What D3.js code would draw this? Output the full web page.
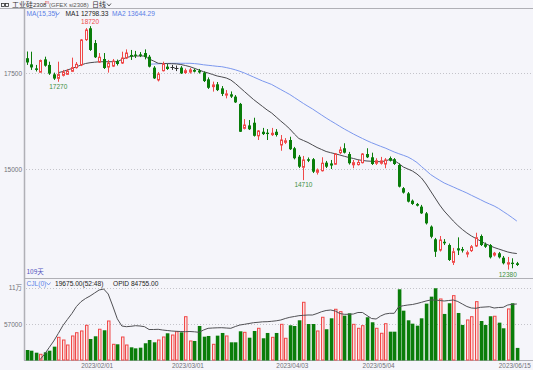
<!DOCTYPE html>
<html><head><meta charset="utf-8">
<script src="https://cdn.jsdelivr.net/npm/d3@7"></script>
<style>html,body{margin:0;padding:0;background:#f5f5fa;}svg{display:block}</style>
</head><body><svg id="c" width="533" height="370"></svg>
<script>
const dates=["01/03","01/04","01/05","01/06","01/09","01/10","01/11","01/12","01/13","01/16","01/17","01/18","01/19","01/20","01/30","01/31",
"02/01","02/02","02/03","02/06","02/07","02/08","02/09","02/10","02/13","02/14","02/15","02/16","02/17","02/20","02/21","02/22","02/23","02/24","02/27","02/28",
"03/01","03/02","03/03","03/06","03/07","03/08","03/09","03/10","03/13","03/14","03/15","03/16","03/17","03/20","03/21","03/22","03/23","03/24","03/27","03/28","03/29","03/30","03/31",
"04/03","04/04","04/06","04/07","04/10","04/11","04/12","04/13","04/14","04/17","04/18","04/19","04/20","04/21","04/24","04/25","04/26","04/27","04/28",
"05/04","05/05","05/08","05/09","05/10","05/11","05/12","05/15","05/16","05/17","05/18","05/19","05/22","05/23","05/24","05/25","05/26","05/29","05/30","05/31",
"06/01","06/02","06/05","06/06","06/07","06/08","06/09","06/12","06/13","06/14","06/15"];
const open=[17885,17725,17620,17520,17855,17710,17465,17360,17440,17465,17545,17640,17710,18370,18665,18280,17785,17865,17655,17680,17810,17760,17890,17970,17980,17985,18020,17925,17640,17320,17560,17665,17645,17635,17640,17510,17525,17580,17560,17510,17335,17145,17205,17100,16925,16945,16885,16695,16060,16135,16205,15865,15970,15945,15895,15970,15625,15695,15755,15540,15320,15045,15255,15255,14915,14955,15165,15145,15125,15425,15540,15390,15110,15115,15165,15390,15305,15150,15150,15130,15285,15255,15105,14500,14365,14175,14090,14020,13845,13500,13170,12890,13105,13020,12570,12935,12915,12785,12875,12995,13255,13040,13020,12760,12805,12690,12525,12560,12545];
const high=[18060,18055,17710,17850,17925,17795,17510,17795,17580,17605,17900,17785,18385,18670,18720,18360,18020,18020,17840,17865,17850,18055,18115,18100,18075,18045,18115,17970,17680,17525,17795,17735,17710,17695,17680,17615,17630,17615,17605,17540,17385,17275,17265,17160,17055,17020,16925,16720,16300,16275,16335,16015,16070,16040,16070,16040,15885,15805,15840,15575,15365,15340,15300,15285,15015,15305,15210,15235,15415,15580,15670,15445,15235,15235,15415,15540,15425,15280,15315,15285,15325,15285,15145,14530,14400,14205,14115,14065,13880,13530,13205,13255,13175,13060,12945,13220,12970,12875,13020,13340,13295,13085,13045,12840,12840,12735,12710,12675,12580];
const low=[17710,17580,17540,17515,17665,17450,17320,17270,17410,17450,17525,17615,17680,18335,18075,17890,17760,17605,17510,17655,17695,17735,17865,17840,17890,17915,17855,17645,17345,17280,17540,17580,17580,17550,17475,17475,17485,17515,17485,17265,17085,17015,17030,16900,16840,16850,16720,15965,16030,16015,15845,15755,15885,15755,15860,15845,15475,15650,15495,15250,15025,14710,15180,14895,14855,14935,15025,15000,15105,15390,15405,15115,15020,15090,15145,15285,15105,15105,15115,15020,15195,15105,14520,14360,14130,14065,14025,13830,13555,13195,12710,12850,13020,12605,12500,12760,12825,12700,12840,12970,12995,12945,12670,12720,12670,12515,12380,12415,12475];
const close=[17775,17645,17580,17825,17690,17485,17355,17460,17520,17550,17640,17725,18360,18620,18100,17910,17910,17630,17760,17810,17735,17890,18020,17930,17945,17945,17915,17665,17360,17475,17735,17605,17645,17635,17490,17560,17580,17535,17515,17290,17115,17190,17055,16955,16955,16885,16735,15970,16145,16035,15865,15990,15910,15910,15930,15885,15755,15735,15515,15280,15060,15235,15215,14930,14975,15150,15060,15090,15390,15495,15425,15150,15165,15170,15390,15305,15130,15215,15210,15235,15215,15130,14540,14385,14150,14090,14045,13845,13585,13235,12845,13150,13065,12630,12845,12880,12875,12820,12975,13210,13020,12975,12700,12805,12700,12545,12560,12525,12500];
const volume=[16400,15300,12200,9700,12800,15300,21600,36200,32000,24200,38300,43400,46100,55000,33600,37800,48800,47200,61700,25300,25300,36700,24200,20600,19000,20000,26900,32000,28400,32000,36700,42500,39800,45000,44000,68400,30500,30500,53900,37200,38300,25300,38800,43000,38300,28400,28400,45600,44000,35600,46100,50300,34700,43000,36200,43000,56500,34700,55000,53900,62800,90900,57000,57000,46100,67500,48800,65900,80000,76300,70000,73700,56500,50300,54400,67500,59700,50300,42500,57500,45000,45000,111200,77800,62800,57500,54400,65900,88800,99700,112800,96100,72700,89400,101300,74200,55500,63300,68400,91900,61700,55500,69100,69100,59100,50300,80500,89400,19675];
const openInterest=[null,null,null,1500,9750,19500,29250,40500,52200,61500,70500,81000,88200,93000,96750,101250,105750,107250,99750,81750,62550,51750,50700,51300,52200,51750,50700,46500,46500,46800,45750,45000,44250,43800,43500,43200,43500,43050,42300,45750,48300,48750,49050,49200,48750,48300,51000,53250,54300,55500,56700,57300,58050,58200,58800,59550,60750,63000,64800,66000,67200,67800,68250,68250,70500,73200,75000,75750,74250,70500,69300,69300,69750,72000,72000,67500,63000,62250,66750,69750,70800,70800,80700,82200,83250,84000,85500,87300,89250,90750,90750,90000,89250,90000,90750,88500,84750,81000,78750,78300,79800,80250,80700,78750,79500,79800,83250,84300,84755];
const ma1=[null,null,null,null,null,null,null,17508,17539,17578,17617,17661,17708,17747,17768,17781,17792,17794,17794,17794,17794,17852,17904,17930,17943,17943,17943,17865,17812,17753,17747,17745,17742,17737,17721,17695,17664,17622,17578,17534,17500,17461,17422,17398,17370,17318,17227,17122,17018,16914,16810,16719,16628,16537,16458,16354,16250,16151,16042,15911,15794,15742,15690,15625,15560,15508,15456,15425,15396,15365,15331,15300,15274,15242,15222,15208,15201,15195,15190,15208,15248,15222,15143,15052,15000,14948,14870,14766,14610,14427,14245,14063,13906,13776,13646,13529,13425,13334,13255,13190,13125,13060,13008,12956,12917,12878,12839,12813,12798.33];
const ma2=[null,null,null,null,null,null,null,null,null,null,null,null,null,null,null,null,null,null,null,null,null,null,null,null,null,null,null,17727,17734,17740,17745,17750,17753,17753,17753,17753,17753,17745,17732,17714,17701,17688,17674,17664,17641,17615,17583,17544,17500,17448,17396,17344,17292,17247,17201,17135,17070,17005,16940,16862,16784,16706,16633,16563,16484,16406,16328,16255,16185,16112,16042,15977,15912,15852,15794,15737,15685,15638,15591,15547,15495,15443,15399,15357,15313,15248,15169,15065,14961,14857,14779,14706,14636,14584,14532,14479,14427,14375,14315,14258,14201,14141,14089,14037,13972,13893,13815,13732,13644.29];
const priceTicks=[15000,17500];
const volTicks=[57000,114000];
const dateTicks=["02/01","03/01","04/03","05/04","06/15"];
const extremeMarks=[{i:14,kind:"high"},{i:7,kind:"low"},{i:61,kind:"low"},{i:106,kind:"low"}];

const W=533,H=370,BG="#f5f5fa",RED="#f04848",GREEN="#0a7d0a",GRID="#c4c4ca",AX="#b0b0b6";
const NUMF="'Liberation Sans',Arial,sans-serif", CJK="'Noto Sans CJK SC','Noto Sans',sans-serif";
const svg=d3.select("#c");
svg.append("rect").attr("width",W).attr("height",H).attr("fill",BG);

const x=d3.scaleBand().domain(dates).range([24.23,519.09]);
const cx=i=>Math.round(x(dates[i])+x.bandwidth()/2);
const y=d3.scaleLinear().domain([15000,17500]).range([169,73]);
const yv=d3.scaleLinear().domain([0,114000]).range([360.5,287.5]);
const yo=d3.scaleLinear().domain([0,109500]).range([360.5,287.5]);

// grid
const grid=svg.append("g").attr("stroke",GRID).attr("stroke-dasharray","1,2").attr("stroke-width",1);
priceTicks.forEach(t=>grid.append("line").attr("x1",26).attr("x2",W).attr("y1",Math.round(y(t))+0.5).attr("y2",Math.round(y(t))+0.5));
volTicks.forEach(t=>grid.append("line").attr("x1",26).attr("x2",W).attr("y1",Math.round(yv(t))+0.5).attr("y2",Math.round(yv(t))+0.5));

// frame lines
const fr=svg.append("g").attr("stroke",AX).attr("stroke-width",1);
fr.append("line").attr("x1",0).attr("x2",W).attr("y1",8.5).attr("y2",8.5);
fr.append("line").attr("x1",24).attr("x2",W).attr("y1",278.5).attr("y2",278.5);
fr.append("line").attr("x1",24).attr("x2",W).attr("y1",360.5).attr("y2",360.5);
fr.append("line").attr("x1",24.5).attr("x2",24.5).attr("y1",8.5).attr("y2",360.5).attr("stroke-width",1.5);

// axes labels
const axP=svg.append("g").attr("transform","translate(24,0)")
  .call(d3.axisLeft(y).tickValues(priceTicks).tickSize(0).tickPadding(2).tickFormat(d=>String(d)));
const axV=svg.append("g").attr("transform","translate(24,0)")
  .call(d3.axisLeft(yv).tickValues(volTicks).tickSize(0).tickPadding(2).tickFormat(d=>d>=100000?Math.floor(d/10000)+"万":String(d)));
const axD=svg.append("g").attr("transform","translate(-2,360)")
  .call(d3.axisBottom(x).tickValues(dateTicks).tickSize(0).tickPadding(3).tickFormat(d=>"2023/"+d));
[axP,axV,axD].forEach(a=>{a.select(".domain").remove();a.selectAll("text").attr("fill","#707078").attr("font-size","6.5px").attr("font-family",NUMF+","+CJK);});
axD.selectAll("text").attr("font-size","6.4px");

// MA lines
const lineP=arr=>d3.line().defined(d=>d!=null).x((d,i)=>x(dates[i])+x.bandwidth()/2).y(d=>y(d))(arr);
svg.append("path").attr("d",lineP(ma2)).attr("fill","none").attr("stroke","#7c98ee").attr("stroke-width",1);
svg.append("path").attr("d",lineP(ma1)).attr("fill","none").attr("stroke","#4a4a4e").attr("stroke-width",1);

// candles
const cg=svg.append("g");
dates.forEach((d,i)=>{
  const o=open[i],c=close[i],h=high[i],l=low[i],X=cx(i);
  const top=Math.min(y(o),y(c)),bot=Math.max(y(o),y(c));
  if(c>o){
    cg.append("line").attr("x1",X+0.5).attr("x2",X+0.5).attr("y1",y(h)).attr("y2",top).attr("stroke",RED);
    cg.append("line").attr("x1",X+0.5).attr("x2",X+0.5).attr("y1",bot).attr("y2",y(l)).attr("stroke",RED);
    cg.append("rect").attr("x",X-0.5).attr("y",top).attr("width",2).attr("height",Math.max(bot-top,1)).attr("fill",BG).attr("stroke",RED).attr("stroke-width",1);
  } else if(c<o){
    cg.append("line").attr("x1",X+0.5).attr("x2",X+0.5).attr("y1",y(h)).attr("y2",y(l)).attr("stroke",GREEN);
    cg.append("rect").attr("x",X-1).attr("y",top).attr("width",3).attr("height",Math.max(bot-top,1)).attr("fill",GREEN);
  } else {
    cg.append("line").attr("x1",X+0.5).attr("x2",X+0.5).attr("y1",y(h)).attr("y2",y(l)).attr("stroke","#333");
    cg.append("line").attr("x1",X-1.5).attr("x2",X+2.5).attr("y1",Math.round(y(o))+0.5).attr("y2",Math.round(y(o))+0.5).attr("stroke","#333");
  }
});

// extreme labels
extremeMarks.forEach(m=>{
  const v=m.kind==="high"?high[m.i]:low[m.i];
  svg.append("text").attr("x",x(dates[m.i])+x.bandwidth()/2).attr("y",m.kind==="high"?y(v)-2.5:y(v)+7)
    .attr("text-anchor","middle").attr("font-size","6.5px").attr("font-family",NUMF)
    .attr("fill",m.kind==="high"?"#ee4a4a":"#3f8f3f").text(String(v));
});

// volume bars
const vg=svg.append("g");
dates.forEach((d,i)=>{
  const X=cx(i),t=yv(volume[i]);
  if(close[i]>=open[i]){
    vg.append("rect").attr("x",X-0.5).attr("y",t).attr("width",2.5).attr("height",360-t).attr("fill","#fbe0e0").attr("stroke",RED).attr("stroke-width",1);
  } else {
    vg.append("rect").attr("x",X-1.2).attr("y",t).attr("width",3.6).attr("height",360.5-t).attr("fill",GREEN);
  }
});
// open interest line
svg.append("path").attr("d",d3.line().defined(d=>d!=null).x((d,i)=>x(dates[i])+x.bandwidth()/2).y(d=>yo(d))(openInterest))
  .attr("fill","none").attr("stroke","#505054").attr("stroke-width",1);

// header texts
const hd=svg.append("g").attr("font-size","7px");
hd.append("rect").attr("x",1.5).attr("y",3.5).attr("width",3).attr("height",3).attr("fill","none").attr("stroke","#333").attr("stroke-width",0.8);
hd.append("rect").attr("x",5.5).attr("y",3.5).attr("width",3).attr("height",3).attr("fill","none").attr("stroke","#333").attr("stroke-width",0.8);
hd.append("text").attr("x",12).attr("y",7).attr("font-family",CJK).attr("fill","#333").text("工业硅");
hd.append("text").attr("x",33).attr("y",7).attr("font-family",NUMF).attr("font-size","6px").attr("fill","#333").text("2308");
hd.append("text").attr("x",45).attr("y",4).attr("font-family",NUMF).attr("font-size","5px").attr("fill","#e04040").text("m");
hd.append("text").attr("x",49).attr("y",7).attr("font-family",NUMF).attr("font-size","6px").attr("fill","#555").text("(GFEX  si2308)");
hd.append("text").attr("x",92).attr("y",7).attr("font-family",CJK).attr("fill","#333").text("日线");
hd.append("path").attr("d","M107,3.5 L109,6 L111,3.5").attr("fill","none").attr("stroke","#333").attr("stroke-width",0.8);

const ma=svg.append("g").attr("font-family",NUMF).attr("font-size","6.6px");
ma.append("text").attr("x",26.5).attr("y",15.5).attr("fill","#5a7fe6").text("MA(15,35)");
ma.append("path").attr("d","M55.5,12.5 L57.5,15 L59.5,12.5").attr("fill","none").attr("stroke","#5a7fe6").attr("stroke-width",0.8);
ma.append("text").attr("x",65.5).attr("y",15.5).attr("fill","#222").text("MA1 "+ma1[ma1.length-1].toFixed(2));
ma.append("text").attr("x",112).attr("y",15.5).attr("fill","#5a7fe6").text("MA2 "+ma2[ma2.length-1].toFixed(2));

svg.append("text").attr("x",26.5).attr("y",274.3).attr("font-family",CJK+","+NUMF).attr("font-size","6.5px").attr("fill","#5454c0").text(dates.length+"天");

const vh=svg.append("g").attr("font-family",NUMF).attr("font-size","6.6px");
vh.append("text").attr("x",26.5).attr("y",285.5).attr("fill","#5a7fe6").text("CJL(0)");
vh.append("path").attr("d","M46.5,282.5 L48.5,285 L50.5,282.5").attr("fill","none").attr("stroke","#5a7fe6").attr("stroke-width",0.8);
vh.append("text").attr("x",55).attr("y",285.5).attr("fill","#222").text(volume[volume.length-1].toFixed(2)+"(52:48)");
vh.append("text").attr("x",113).attr("y",285.5).attr("fill","#222").text("OPID "+openInterest[openInterest.length-1].toFixed(2));
</script></body></html>
